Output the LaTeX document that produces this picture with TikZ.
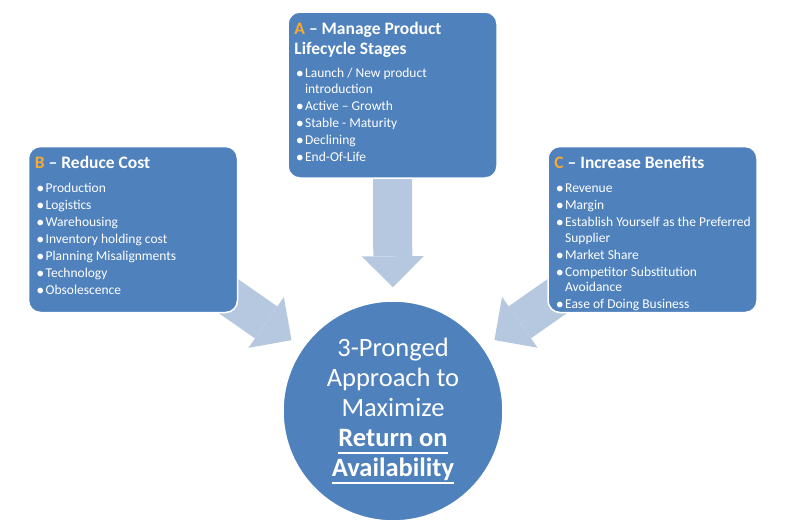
\documentclass[tikz,border=0pt]{standalone}
\usepackage{fontspec}
\setmainfont{Carlito}
\usetikzlibrary{arrows.meta, backgrounds}

\definecolor{boxblue}{RGB}{79,129,189}
\definecolor{pale}{RGB}{182,200,224}
\definecolor{tagorange}{RGB}{247,170,50}

\newcommand{\blt}{\hspace*{1.5pt}\makebox[9.2pt][l]{\raisebox{-1pt}{\fontsize{16}{0}\selectfont\textbullet}}}
\newcommand{\cnt}{\hspace*{10.7pt}}
\newcommand{\undertext}[1]{\sbox0{#1}\rlap{\rule[-7pt]{\wd0}{1.8pt}}\usebox0}

\begin{document}
\begin{tikzpicture}[
      x = 1pt, y = -1pt,
      panel/.style   = {rectangle, rounded corners = 12pt, fill = boxblue, draw = white,
                        line width = 1.5pt, minimum width = 209pt, minimum height = 166pt,
                        inner sep = 0pt},
      listtxt/.style = {anchor = north west, inner sep = 0pt, text = white, align = flush left,
                        text width = 210pt, font = \fontsize{13.5}{15.5}\selectfont},
      hub/.style     = {circle, fill = boxblue, draw = white, line width = 1.5pt,
                        minimum size = 220pt, inner sep = 0pt, text = white, align = center,
                        font = \fontsize{26.5}{30}\selectfont},
      pointer/.style = {draw = pale, line width = 39pt,
                        -{Triangle[width = 62pt, length = 31pt, line width = 0pt]},
                        shorten > = 13pt}
    ]
  \useasboundingbox (0,0) rectangle (785,522);

  % ---------- three panels ----------------------------------------------
  \node[panel] (A) at (392.5,95)  {};
  \node[panel] (B) at (133,229.5) {};
  \node[panel] (C) at (652.5,229.5) {};

  \node[listtxt] (Atxt) at ([xshift = 7pt, yshift = -10.5pt]A.north west)
    {{\fontsize{17.5}{20}\selectfont\bfseries\textcolor{tagorange}{A} – Manage Product\\[4.5pt]
      Lifecycle Stages}\\[8pt]
     \blt Launch / New product\\
     \cnt introduction\\[1.5pt]
     \blt Active – Growth\\[1.5pt]
     \blt Stable - Maturity\\[1.5pt]
     \blt Declining\\[1.5pt]
     \blt End-Of-Life};

  \node[listtxt] (Btxt) at ([xshift = 7pt, yshift = -10.5pt]B.north west)
    {{\fontsize{17.5}{20}\selectfont\bfseries\textcolor{tagorange}{B} – Reduce Cost}\\[8.5pt]
     \blt Production\\[1.5pt]
     \blt Logistics\\[1.5pt]
     \blt Warehousing\\[1.5pt]
     \blt Inventory holding cost\\[1.5pt]
     \blt Planning Misalignments\\[1.5pt]
     \blt Technology\\[1.5pt]
     \blt Obsolescence};

  \node[listtxt] (Ctxt) at ([xshift = 7pt, yshift = -10.5pt]C.north west)
    {{\fontsize{17.5}{20}\selectfont\bfseries\textcolor{tagorange}{C} – Increase Benefits}\\[8.5pt]
     \blt Revenue\\[1.5pt]
     \blt Margin\\[1.5pt]
     \blt Establish Yourself as the Preferred\\
     \cnt Supplier\\[1.5pt]
     \blt Market Share\\[1.5pt]
     \blt Competitor Substitution\\
     \cnt Avoidance\\[1.5pt]
     \blt Ease of Doing Business};

  % ---------- centre ----------------------------------------------------
  \node[hub] (core) at (393,411)
    {3-Pronged\\ Approach to\\ Maximize\\
     {\bfseries\undertext{Return on}}\\ {\bfseries\undertext{Availability}}};

  % ---------- block arrows, behind the panels ---------------------------
  \begin{scope}[on background layer]
    \draw[pointer] (A.center) -- (core);
    \draw[pointer] (B.center) -- (core);
    \draw[pointer] (C.center) -- (core);
  \end{scope}
\end{tikzpicture}
\end{document}
